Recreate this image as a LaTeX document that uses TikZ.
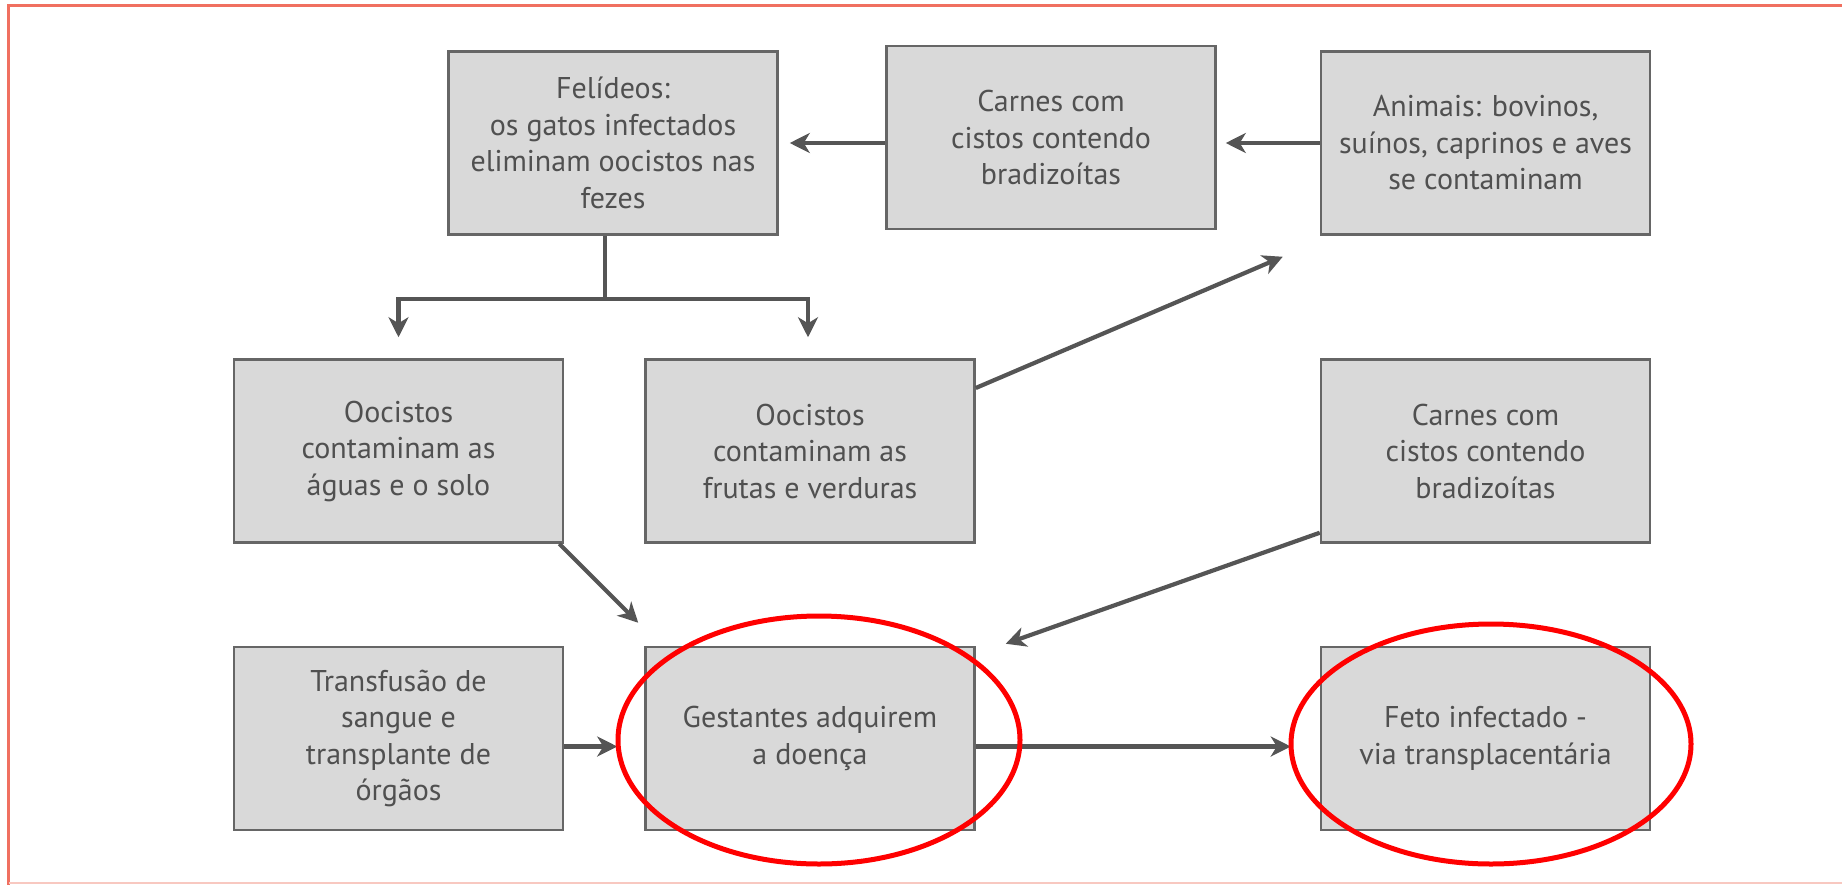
\documentclass[tikz,border=0pt]{standalone}
\usepackage{fontspec}
\setmainfont{PT Sans}
\usetikzlibrary{arrows.meta}
\definecolor{boxfill}{HTML}{D9D9D9}
\definecolor{boxline}{HTML}{666666}
\definecolor{txt}{HTML}{505050}
\definecolor{arrcol}{HTML}{555555}
\definecolor{frame}{HTML}{F07060}
\definecolor{framelight}{HTML}{F8C8C0}
\tikzset{
  stepbox/.style={draw=boxline, line width=2.5pt, fill=boxfill, minimum width=329pt,
    minimum height=183pt, inner sep=0pt, align=center, text=txt,
    font=\fontsize{30}{36.5}\selectfont},
  arr/.style={draw=arrcol, line width=4.2pt,
    -{Stealth[length=20pt, width=20pt, inset=6pt]}},
  plainline/.style={draw=arrcol, line width=4.2pt},
  mark ellipse/.style={draw=red, line width=5pt}
}
\begin{document}
\begin{tikzpicture}[x=1pt, y=-1pt]
\useasboundingbox (0,0) rectangle (1842,884);
% frame
\draw[frame, line width=3pt] (8.5,1000) -- (8.5,5) -- (1900,5);
\draw[framelight, line width=1.5pt] (8.5,883) -- (1900,883);

% boxes
\node[stepbox] (fel) at (613,143) {Felídeos:\\os gatos infectados\\eliminam oocistos nas\\fezes};
\node[stepbox] (carA) at (1051,137.5) {Carnes com\\cistos contendo\\bradizoítas};
\node[stepbox] (ani) at (1485.5,143) {Animais: bovinos,\\suínos, caprinos e aves\\se contaminam};
\node[stepbox] (agu) at (398.5,451) {Oocistos\\contaminam as\\águas e o solo};
\node[stepbox] (fru) at (810,451) {Oocistos\\contaminam as\\frutas e verduras};
\node[stepbox] (carB) at (1485.5,451) {Carnes com\\cistos contendo\\bradizoítas};
\node[stepbox] (tra) at (398.5,738.5) {Transfusão de\\sangue e\\transplante de\\órgãos};
\node[stepbox] (ges) at (810,738.5) {Gestantes adquirem\\a doença};
\node[stepbox] (fet) at (1485.5,738.5) {Feto infectado -\\via transplacentária};

% connectors
\draw[arr] (carA.west |- fel.east) -- ([xshift=11pt]fel.east);
\draw[arr] (ani.west) -- ([xshift=9pt]carA.east |- ani.west);
\draw[plainline] ([xshift=-8pt]fel.south) -- ++(0,63) coordinate (fk);
\draw[arr] (fk) -| ([yshift=21pt]agu.north);
\draw[arr] (fk) -| ([xshift=-2pt,yshift=21pt]fru.north);
\draw[arr] ([yshift=63pt]fru.east) -- ([shift={(-37pt,-21pt)}]ani.south west);
\draw[arr] ([xshift=-5pt]agu.south east) -- ([shift={(-6pt,23pt)}]ges.north west);
\draw[arr] ([yshift=11pt]carB.south west) -- ([shift={(30pt,2pt)}]ges.north east);
\draw[arr] ([yshift=-8pt]tra.east) -- ([xshift=-27pt,yshift=-8pt]ges.west);
\draw[arr] ([yshift=-8pt]ges.east) -- ([xshift=-29pt,yshift=-8pt]fet.west);

% highlight ellipses
\draw[mark ellipse] (819,740) ellipse [x radius=201, y radius=124];
\draw[mark ellipse] (1491,744) ellipse [x radius=200, y radius=120];
\end{tikzpicture}
\end{document}
